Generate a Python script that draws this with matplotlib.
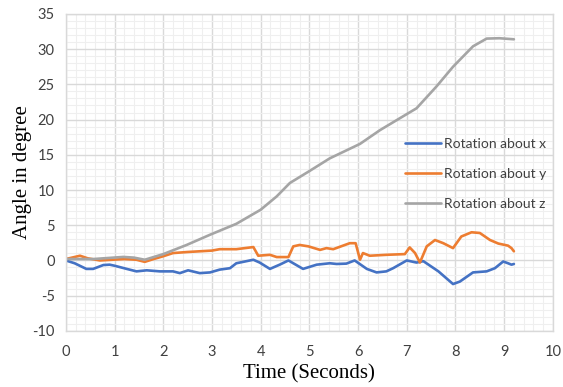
import matplotlib
matplotlib.use('Agg')
import matplotlib.pyplot as plt
from matplotlib.ticker import MultipleLocator

plt.rcParams['axes.unicode_minus'] = False

# rotation about x (blue)
t_x = [0, 0.18, 0.42, 0.56, 0.77, 0.9, 1.0, 1.25, 1.45, 1.66,
       1.93, 2.2, 2.34, 2.51, 2.75, 2.96, 3.16, 3.37, 3.5, 3.85,
       3.98, 4.19, 4.39, 4.57, 4.87, 5.15, 5.42, 5.56, 5.76, 5.93,
       6.18, 6.38, 6.58, 6.72, 7.0, 7.2, 7.34, 7.65, 7.95, 8.09,
       8.36, 8.64, 8.81, 8.98, 9.08, 9.15, 9.2]
rot_x = [0, -0.4, -1.2, -1.2, -0.65, -0.6, -0.75, -1.2, -1.55, -1.4,
         -1.55, -1.55, -1.8, -1.4, -1.8, -1.7, -1.3, -1.1, -0.4, 0.1,
         -0.3, -1.2, -0.6, 0, -1.2, -0.6, -0.4, -0.5, -0.45, 0,
         -1.2, -1.7, -1.55, -1.1, 0, -0.3, -0.1, -1.55, -3.35, -3.0,
         -1.7, -1.55, -1.1, -0.15, -0.4, -0.6, -0.5]

# rotation about y (orange)
t_y = [0, 0.29, 0.45, 0.7, 1.2, 1.45, 1.62, 1.8, 2.0, 2.2,
       2.5, 3.0, 3.16, 3.5, 3.85, 3.95, 4.19, 4.33, 4.57, 4.67,
       4.8, 4.98, 5.22, 5.35, 5.49, 5.83, 5.95, 6.04, 6.1, 6.24,
       6.58, 6.96, 7.06, 7.17, 7.27, 7.41, 7.58, 7.75, 7.95, 8.12,
       8.33, 8.5, 8.71, 8.88, 9.08, 9.15, 9.2]
rot_y = [0.2, 0.67, 0.3, 0.0, 0.2, 0.1, -0.2, 0.2, 0.6, 1.05,
         1.2, 1.4, 1.6, 1.6, 1.9, 0.67, 0.8, 0.48, 0.48, 2.0,
         2.2, 2.0, 1.5, 1.75, 1.6, 2.45, 2.45, 0.1, 1.05, 0.67,
         0.8, 0.9, 1.85, 1.05, -0.3, 2.0, 2.9, 2.45, 1.75, 3.4,
         4.0, 3.9, 2.9, 2.4, 2.1, 1.75, 1.3]

# rotation about z (gray)
t_z = [0, 0.56, 1.18, 1.4, 1.62, 2.0, 2.48, 2.96, 3.5, 4.0, 4.33, 4.6,
       4.98, 5.42, 6.04, 6.45, 6.86, 7.2, 7.61, 7.95, 8.36, 8.64, 8.9, 9.2]
rot_z = [0.2, 0.2, 0.5, 0.4, 0.1, 0.9, 2.2, 3.65, 5.2, 7.2, 9.1, 11.0,
         12.6, 14.5, 16.55, 18.5, 20.2, 21.6, 24.7, 27.5, 30.4, 31.5, 31.55, 31.4]

series_names = ['Rotation about x', 'Rotation about y', 'Rotation about z']
series_colors = ['#4472C4', '#ED7D31', '#A5A5A5']

fig = plt.figure(figsize=(5.63, 3.87), dpi=100)
ax = fig.add_axes([0.117, 0.145, 0.865, 0.819])

for t, v, name, c in zip([t_x, t_y, t_z], [rot_x, rot_y, rot_z],
                         series_names, series_colors):
    ax.plot(t, v, color=c, lw=1.9, label=name, solid_capstyle='round')

ax.set_xlim(0, 10)
ax.set_ylim(-10, 35)
ax.xaxis.set_major_locator(MultipleLocator(1))
ax.xaxis.set_minor_locator(MultipleLocator(0.2))
ax.yaxis.set_major_locator(MultipleLocator(5))
ax.yaxis.set_minor_locator(MultipleLocator(1))

ax.grid(which='major', color='#d9d9d9', lw=1.0)
ax.grid(which='minor', color='#efefef', lw=0.8)
ax.set_axisbelow(True)
for s in ax.spines.values():
    s.set_color('#d9d9d9')
    s.set_linewidth(1.0)

ax.tick_params(which='both', length=0)
ax.tick_params(axis='x', pad=10)
ax.tick_params(axis='y', pad=8)
for lbl in ax.get_xticklabels() + ax.get_yticklabels():
    lbl.set_fontfamily('Lato')
    lbl.set_fontsize(10.5)
    lbl.set_color('#404040')

ax.set_xlabel('Time (Seconds)', family='Liberation Serif', fontsize=15,
              labelpad=4)
ax.set_ylabel('Angle in degree', family='Liberation Serif', fontsize=15,
              labelpad=0)

leg = ax.legend(loc='center left', bbox_to_anchor=(0.67, 0.495), frameon=False,
                prop={'family': 'Lato', 'size': 10},
                handlelength=2.6, handletextpad=0.2, labelspacing=1.3)
for txt in leg.get_texts():
    txt.set_color('#404040')

fig.savefig('out.png', dpi=100)
